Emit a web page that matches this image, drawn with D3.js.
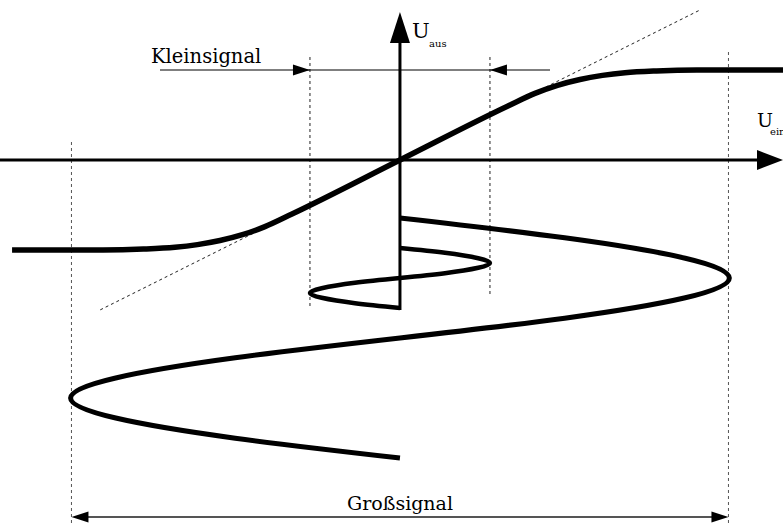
<!DOCTYPE html>
<html>
<head>
<meta charset="utf-8">
<script src="https://cdn.jsdelivr.net/npm/d3@7"></script>
<style>
  body { margin: 0; background: #fff; }
  svg { display: block; }
  text { font-family: "DejaVu Serif", "Liberation Serif", serif; fill: #000; }
</style>
</head>
<body>
<div id="graph"></div>
<script>
const uEin = [-4.31, -3.3, -2.85, -2.5, -2.25, -2.0, -1.75, -1.5, -1.2, 0, 1.2, 1.5, 1.75, 2.0, 2.25, 2.5, 2.85, 3.3, 4.26];
const uAus = [-1.0, -1.0, -0.99, -0.97, -0.94, -0.895, -0.83, -0.74, -0.6, 0, 0.6, 0.74, 0.83, 0.895, 0.94, 0.97, 0.99, 1.0, 1.0];

// Kleinsignal (Zeit nach unten)
const kleinT = [0.5, 0.58, 0.67, 0.75, 0.83, 0.92, 1.0, 1.08, 1.17, 1.25, 1.33, 1.42, 1.5];
const kleinU = [0, 0.5, 0.87, 1, 0.87, 0.5, 0, -0.5, -0.87, -1, -0.87, -0.5, 0];

// Großsignal
const grossT = [0, 0.33, 0.67, 1, 1.33, 1.67, 2, 2.33, 2.67, 3, 3.33, 3.67, 4];
const grossU = [0, 1.83, 3.17, 3.66, 3.17, 1.83, 0, -1.83, -3.17, -3.66, -3.17, -1.83, 0];

const kleinAmp = 1, grossAmp = 3.65, gain = 0.5;
const labels = { klein: "Kleinsignal", gross: "Großsignal", aus: "aus", ein: "ein" };

const width = 783, height = 530;
const svg = d3.select("#graph").append("svg")
    .attr("width", width)
    .attr("height", height);

const xScale = d3.scaleLinear().domain([-4.444, 4.256]).range([0, width]);
const yScale = d3.scaleLinear().domain([1, -1]).range([70, 250]);
const tScale = d3.scaleLinear().domain([0, 4]).range([218, 458]);

const x0 = xScale(0), y0 = yScale(0);

// Hilfslinien (gestrichelt)
const tang = 3.33;
svg.append("line")
    .attr("x1", xScale(-tang)).attr("y1", yScale(-tang * gain))
    .attr("x2", xScale(tang)).attr("y2", yScale(tang * gain))
    .attr("stroke", "#222").attr("stroke-width", 1).attr("stroke-dasharray", "3,3");

[[-kleinAmp, 308], [kleinAmp, 297]].forEach(d => {
    svg.append("line")
        .attr("x1", xScale(d[0])).attr("y1", 57)
        .attr("x2", xScale(d[0])).attr("y2", d[1])
        .attr("stroke", "#222").attr("stroke-width", 1).attr("stroke-dasharray", "3,3");
});
[[-grossAmp, 142], [grossAmp, 52]].forEach(d => {
    svg.append("line")
        .attr("x1", xScale(d[0])).attr("y1", d[1])
        .attr("x2", xScale(d[0])).attr("y2", 526)
        .attr("stroke", "#555").attr("stroke-width", 1).attr("stroke-dasharray", "3,3");
});

// Achsen
svg.append("line")
    .attr("x1", 0).attr("y1", y0).attr("x2", width - 20).attr("y2", y0)
    .attr("stroke", "#000").attr("stroke-width", 3);
svg.append("path")
    .attr("d", `M${width},${y0} L${width - 26},${y0 - 10} L${width - 26},${y0 + 10} Z`)
    .attr("fill", "#000");
svg.append("line")
    .attr("x1", x0).attr("y1", 310).attr("x2", x0).attr("y2", 30)
    .attr("stroke", "#000").attr("stroke-width", 3);
svg.append("path")
    .attr("d", `M${x0},12 L${x0 - 10},43 L${x0 + 10},43 Z`)
    .attr("fill", "#000");

// Kennlinie
const kennlinie = d3.line()
    .x((d, i) => xScale(uEin[i]))
    .y((d, i) => yScale(uAus[i]))
    .curve(d3.curveMonotoneX);
svg.append("path")
    .attr("d", kennlinie(uEin))
    .attr("fill", "none").attr("stroke", "#000").attr("stroke-width", 5.5);

// Eingangssignale
function signal(tArr, uArr) {
    return d3.line()
        .x((d, i) => xScale(uArr[i]))
        .y((d, i) => tScale(tArr[i]))
        .curve(d3.curveNatural)(tArr);
}
svg.append("path")
    .attr("d", signal(kleinT, kleinU))
    .attr("fill", "none").attr("stroke", "#000").attr("stroke-width", 4.5);
svg.append("path")
    .attr("d", signal(grossT, grossU))
    .attr("fill", "none").attr("stroke", "#000").attr("stroke-width", 5);

// Kleinsignal-Pfeile
const yK = 70;
svg.append("line")
    .attr("x1", 160).attr("y1", yK).attr("x2", 550).attr("y2", yK)
    .attr("stroke", "#000").attr("stroke-width", 1.2);
const kl = xScale(-kleinAmp), kr = xScale(kleinAmp);
svg.append("path")
    .attr("d", `M${kl},${yK} L${kl - 17},${yK - 5.5} L${kl - 17},${yK + 5.5} Z` +
               `M${kr},${yK} L${kr + 17},${yK - 5.5} L${kr + 17},${yK + 5.5} Z`)
    .attr("fill", "#000");
svg.append("text")
    .attr("x", 151).attr("y", 63)
    .style("font-size", "19.5px")
    .text(labels.klein);

// Großsignal-Pfeil
const yG = 517;
const gl = xScale(-grossAmp), gr = xScale(grossAmp);
svg.append("line")
    .attr("x1", gl + 10).attr("y1", yG).attr("x2", gr - 10).attr("y2", yG)
    .attr("stroke", "#555").attr("stroke-width", 2);
svg.append("path")
    .attr("d", `M${gl},${yG} L${gl + 17},${yG - 5.5} L${gl + 17},${yG + 5.5} Z` +
               `M${gr},${yG} L${gr - 17},${yG - 5.5} L${gr - 17},${yG + 5.5} Z`)
    .attr("fill", "#000");
svg.append("text")
    .attr("x", 400).attr("y", 510)
    .attr("text-anchor", "middle")
    .style("font-size", "19px")
    .text(labels.gross);

// Achsenbeschriftung
svg.append("text").attr("x", 412).attr("y", 38).style("font-size", "21px").text("U");
svg.append("text").attr("x", 429).attr("y", 47).style("font-size", "10px").text(labels.aus);
svg.append("text").attr("x", 757).attr("y", 127).style("font-size", "19px").text("U");
svg.append("text").attr("x", 770).attr("y", 135).style("font-size", "10px").text(labels.ein);
</script>
</body>
</html>
